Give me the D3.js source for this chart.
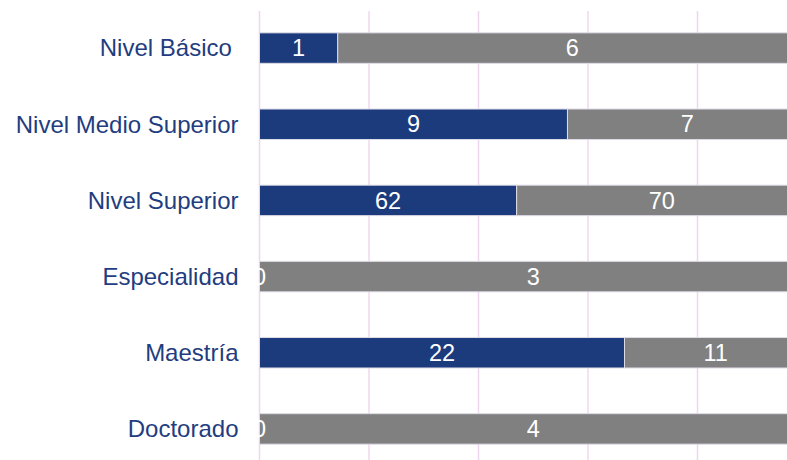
<!DOCTYPE html>
<meta charset="utf-8">
<script src="https://d3js.org/d3.v7.min.js"></script>
<style>
  body { margin: 0; background: #fff; }
  text { font-family: "Liberation Sans", Arial, sans-serif; }
</style>
<div id="chart"></div>
<script>
var categories = ["Nivel Básico ", "Nivel Medio Superior", "Nivel Superior", "Especialidad", "Maestría", "Doctorado"];
var serieA = [1, 9, 62, 0, 22, 0];
var serieB = [6, 7, 70, 3, 11, 4];
var gridTicks = [0, 0.2, 0.4, 0.6, 0.8, 1];

var width = 787, height = 460;

var rows = categories.map(function(c, i) {
    return { name: c, a: serieA[i], b: serieB[i], total: serieA[i] + serieB[i] };
});

var x = d3.scaleLinear().domain([0, 1]).range([259.5, 807]);
var y = d3.scaleBand().domain(categories).range([10, 467]).paddingInner(0.6).paddingOuter(0.3);

var svg = d3.select("#chart").append("svg")
    .attr("width", width)
    .attr("height", height);

// vertical gridlines
svg.append("g").selectAll("line")
    .data(gridTicks)
    .enter().append("line")
    .attr("x1", function(d) { return x(d); })
    .attr("x2", function(d) { return x(d); })
    .attr("y1", 11)
    .attr("y2", height)
    .attr("stroke", "#eed8ee")
    .attr("stroke-width", 1.5);

// category labels
svg.append("g").selectAll("text")
    .data(rows)
    .enter().append("text")
    .attr("x", 238.5)
    .attr("y", function(d) { return y(d.name) + y.bandwidth() / 2; })
    .attr("dy", "0.35em")
    .attr("text-anchor", "end")
    .attr("fill", "#1f3d80")
    .style("font-size", "24px")
    .style("white-space", "pre")
    .text(function(d) { return d.name; });

// stacked 100% segments
var segs = [];
rows.forEach(function(d) {
    var fa = d.a / d.total;
    segs.push({ name: d.name, v: d.a, x0: 0, x1: fa, color: "#1b3b7d" });
    segs.push({ name: d.name, v: d.b, x0: fa, x1: 1, color: "#808080" });
});

svg.append("g").selectAll("rect")
    .data(segs.filter(function(s) { return s.v > 0; }))
    .enter().append("rect")
    .attr("x", function(d) { return x(d.x0); })
    .attr("width", function(d) { return x(d.x1) - x(d.x0); })
    .attr("y", function(d) { return y(d.name); })
    .attr("height", y.bandwidth())
    .attr("fill", function(d) { return d.color; })
    .attr("stroke", "#dedbe6")
    .attr("stroke-width", 1);

// value labels
svg.append("g").selectAll("text")
    .data(segs)
    .enter().append("text")
    .attr("x", function(d) { return (x(d.x0) + x(d.x1)) / 2; })
    .attr("y", function(d) { return y(d.name) + y.bandwidth() / 2; })
    .attr("dy", "0.35em")
    .attr("text-anchor", "middle")
    .attr("fill", "#fff")
    .style("font-size", "23.5px")
    .text(function(d) { return d.v; });
</script>
